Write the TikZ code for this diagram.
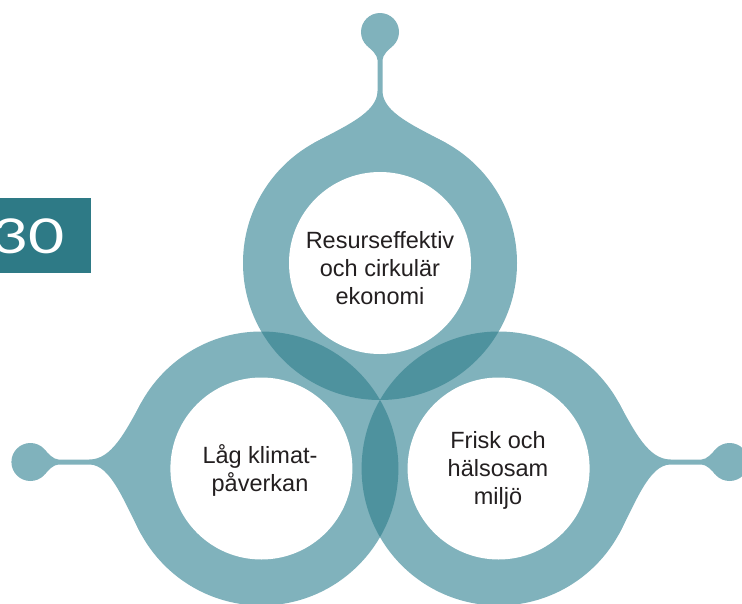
\documentclass[tikz,border=0pt]{standalone}
\usepackage{fontspec}
\setmainfont{Liberation Sans}
\newfontfamily\yearfont[FakeStretch=1.3]{Lato}
\definecolor{ringlight}{RGB}{128,178,188}
\definecolor{ringdark}{RGB}{78,146,158}
\definecolor{yearteal}{RGB}{46,122,134}
\definecolor{labeltext}{RGB}{35,31,32}
\begin{document}
\begin{tikzpicture}[x=1pt, y=-1pt,
  label text/.style={text=labeltext, align=center, font=\fontsize{23.5}{28}\selectfont},
  pics/ringstem/.default=0,
  pics/ringstem/.style={code={
    \fill[ringlight] (#1-66,-120) .. controls (#1-36,-136.5) and (-2.5,-150) .. (-2.5,-172)
      -- (-2.5,-203) .. controls (-2.5,-208) and (-8.9,-213.8) .. (-12,-216.3)
      -- (0,-231) -- (12,-216.3) .. controls (8.9,-213.8) and (2.5,-208) .. (2.5,-203)
      -- (2.5,-172) .. controls (2.5,-150) and (#1+36,-136.5) .. (#1+66,-120) -- (#1,-60) -- cycle;
    \fill[ringlight] (0,-231) circle (19);
  }}]
\useasboundingbox (0,0) rectangle (742,603);
\clip (0,0) rectangle (742,603);
\fill[white] (0,0) rectangle (742,603);

% Year box
\node[fill=yearteal, anchor=north west, minimum width=91pt, minimum height=75pt, inner sep=0pt] (yearbox) at (0,198) {};
\node[text=white, font=\yearfont\fontsize{48}{48}\selectfont, anchor=base east, inner sep=0pt] (year) at (65,253) {30};

% Ring centres
\coordinate (ctop) at (380,263);
\coordinate (cleft) at (261.4,468.5);
\coordinate (cright) at (498.6,468.5);

% Stems with end bulbs
\pic at (ctop) {ringstem};
\pic[rotate=90] at ([yshift=6.5pt]cleft) {ringstem=-6.5};
\pic[rotate=-90] at ([yshift=6.5pt]cright) {ringstem=6.5};

% Rings
\foreach \c in {ctop,cleft,cright}
  \fill[ringlight] (\c) circle (137);

% Overlaps
\begin{scope}
  \clip (ctop) circle (137);
  \fill[ringdark] (cleft) circle (137);
  \fill[ringdark] (cright) circle (137);
\end{scope}
\begin{scope}
  \clip (cleft) circle (137);
  \fill[ringdark] (cright) circle (137);
\end{scope}

% Inner discs
\foreach \c in {ctop,cleft,cright}
  \fill[white] (\c) circle (91);

% Labels
\node[label text] (resurs) at (380,268) {Resurseffektiv\\och cirkulär\\ekonomi};
\node[label text] (klimat) at (260,470) {Låg klimat-\\påverkan};
\node[label text] (miljo) at (498,470.5) {Frisk och\\hälsosam\\miljö};
\end{tikzpicture}
\end{document}
